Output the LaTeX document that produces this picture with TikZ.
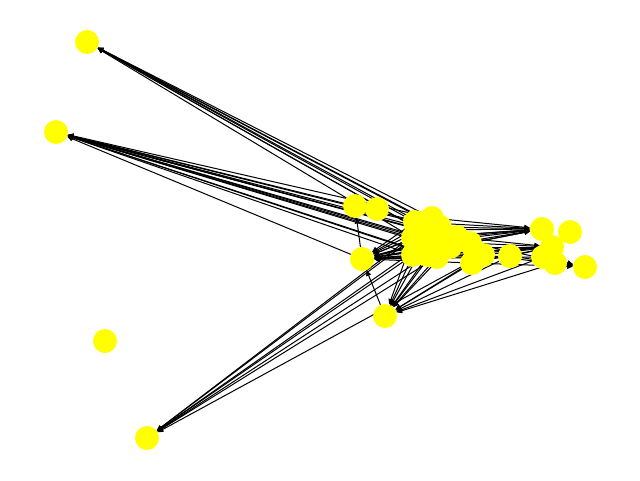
\documentclass[tikz,border=0pt]{standalone}
\usetikzlibrary{arrows.meta}
\pgfdeclarelayer{bg}
\pgfsetlayers{bg,main}
\definecolor{nodeyellow}{RGB}{255,255,0}
\begin{document}
\begin{tikzpicture}[x=1pt,y=-1pt,
  vtx/.style={circle,fill=nodeyellow,draw=none,minimum size=24pt,inner sep=0pt},
  edg/.style={-{Triangle[length=5.5pt,width=5pt]},line width=1pt}]
\useasboundingbox (0,0) rectangle (640,480);
\node[vtx] (A) at (87,42) {};
\node[vtx] (B) at (56,132) {};
\node[vtx] (C) at (105,341) {};
\node[vtx] (D) at (147,438) {};
\node[vtx] (E) at (385,316) {};
\node[vtx] (F) at (362,259) {};
\node[vtx] (G) at (355,206) {};
\node[vtx] (H) at (377,209) {};
\node[vtx] (c1) at (415,222) {};
\node[vtx] (c2) at (432,218) {};
\node[vtx] (c3) at (440,227) {};
\node[vtx] (c4) at (413,238) {};
\node[vtx] (c5) at (413,255) {};
\node[vtx] (c6) at (428,255) {};
\node[vtx] (c7) at (437,257) {};
\node[vtx] (c8) at (450,247) {};
\node[vtx] (c9) at (457,237) {};
\node[vtx] (c10) at (470,243) {};
\node[vtx] (c11) at (472,263) {};
\node[vtx] (c12) at (483,255) {};
\node[vtx] (c13) at (510,256) {};
\node[vtx] (c14) at (542,229) {};
\node[vtx] (c15) at (570,232) {};
\node[vtx] (c16) at (543,257) {};
\node[vtx] (c17) at (555,263) {};
\node[vtx] (c18) at (552,247) {};
\node[vtx] (c19) at (585,267) {};
\node[vtx] (c20) at (425,243) {};
\node[vtx] (c21) at (445,236) {};
\node[vtx] (c22) at (420,230) {};
\begin{pgfonlayer}{bg}
\foreach \s in {c1,c2,c3,c9,c8,c4,c22,c21} \draw[edg] (\s) -- (A);
\foreach \s in {c1,c2,c3,c4,c5,c6,c7,c8,c9,c10,c20,c21,c22,c12,F} \draw[edg] (\s) -- (B);
\foreach \s in {c4,c5,c6,c7,c20,c12,c22} \draw[edg] (\s) -- (D);
\foreach \s in {c1,c2,c3,c4,c5,c6,c7,c8,c9,c10,c11,c12,c13,c14,c16,c18,c20,c21,c22} \draw[edg] (\s) -- (F);
\foreach \s in {c5,c6,c7,c20,c8,c12,c13,c16,c17,c11,c4,c21} \draw[edg] (\s) -- (E);
\foreach \s in {c1,c2,c3,c9,c10,c4,c20,c8,c21,c22} \draw[edg] (\s) -- (c14);
\foreach \s in {c5,c6,c7,c11,c12,c13,c10,c8,c21} \draw[edg] (\s) -- (c18);
\foreach \s in {c12,c13,c11,c16,c10} \draw[edg] (\s) -- (c19);
\draw[edg] (E) -- (F);
\draw[edg] (F) -- (G);
\end{pgfonlayer}
\end{tikzpicture}
\end{document}
